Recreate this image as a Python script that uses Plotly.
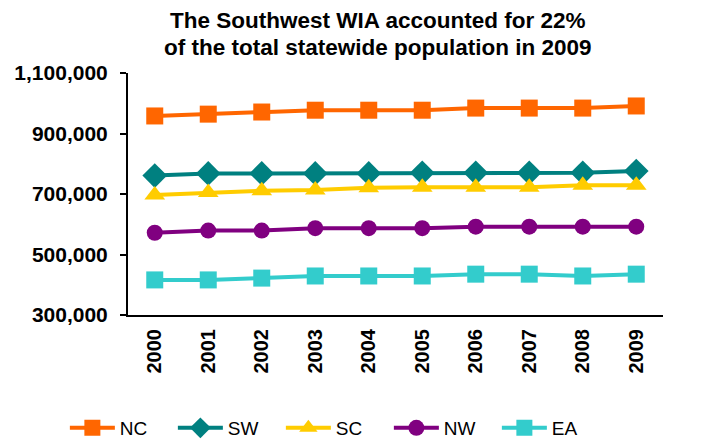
import plotly.graph_objects as go

years = ["2000", "2001", "2002", "2003", "2004", "2005", "2006", "2007", "2008", "2009"]
nc = [958000, 964000, 971000, 977000, 977000, 977000, 984000, 984000, 984000, 991000]
sw = [761000, 768000, 768000, 768000, 768000, 770000, 770000, 770000, 770000, 776000]
sc = [697000, 705000, 711000, 713000, 721000, 722000, 722000, 722000, 729000, 729000]
nw = [572000, 579000, 579000, 587000, 587000, 587000, 592000, 592000, 592000, 592000]
ea = [416000, 416000, 422000, 429000, 429000, 429000, 435000, 435000, 429000, 435000]
title_lines = ["The Southwest WIA accounted for 22%", "of the total statewide population in 2009"]

series = [
    ("NC", nc, "#FF6600", "square", 17),
    ("SW", sw, "#008080", "diamond", 19),
    ("SC", sc, "#FFCC00", "triangle-up", 18),
    ("NW", nw, "#800080", "circle", 16),
    ("EA", ea, "#33CCCC", "square", 17),
]

fig = go.Figure()
for name, vals, color, sym, size in series:
    fig.add_trace(go.Scatter(
        x=years, y=vals, name=name, mode="lines+markers",
        line=dict(color=color, width=4),
        marker=dict(symbol=sym, size=size, color=color),
    ))

font = "Liberation Sans, Arial, sans-serif"
for i, (txt, yy) in enumerate(zip(title_lines, [1.215, 1.104])):
    fig.add_annotation(
        text="<b>" + txt + "</b>", xref="paper", yref="paper",
        x=0.467, y=yy, xanchor="center", yanchor="middle", showarrow=False,
        font=dict(size=22.5, family=font, color="black"),
    )

fig.update_layout(
    width=720, height=445,
    margin=dict(l=128, r=57, t=73, b=130, autoexpand=False),
    paper_bgcolor="white", plot_bgcolor="white",
    font=dict(family=font, color="black"),
    showlegend=True,
    legend=dict(
        orientation="h", x=-0.118, xanchor="left",
        y=-0.467, yanchor="middle",
        font=dict(size=19, family=font), itemwidth=45,
        entrywidth=48, entrywidthmode="pixels",
    ),
    xaxis=dict(
        type="category", showline=True, linecolor="black", linewidth=2,
        showgrid=False, ticks="", tickangle=-90, ticklabelstandoff=4,
        tickfont=dict(size=20, family=font, color="black", weight="bold"),
        range=[-0.5, 9.5],
    ),
    yaxis=dict(
        range=[300000, 1100000], tickvals=[300000, 500000, 700000, 900000, 1100000],
        tickformat=",d", showline=True, linecolor="black", linewidth=2,
        showgrid=False, ticks="outside", ticklen=6, tickwidth=2, tickcolor="black",
        ticklabelstandoff=8,
        tickfont=dict(size=21, family=font, color="black", weight="bold"),
        zeroline=False,
    ),
)

fig.write_html("out.html", config={"displayModeBar": False},
               post_script="document.body.style.margin='0';")
